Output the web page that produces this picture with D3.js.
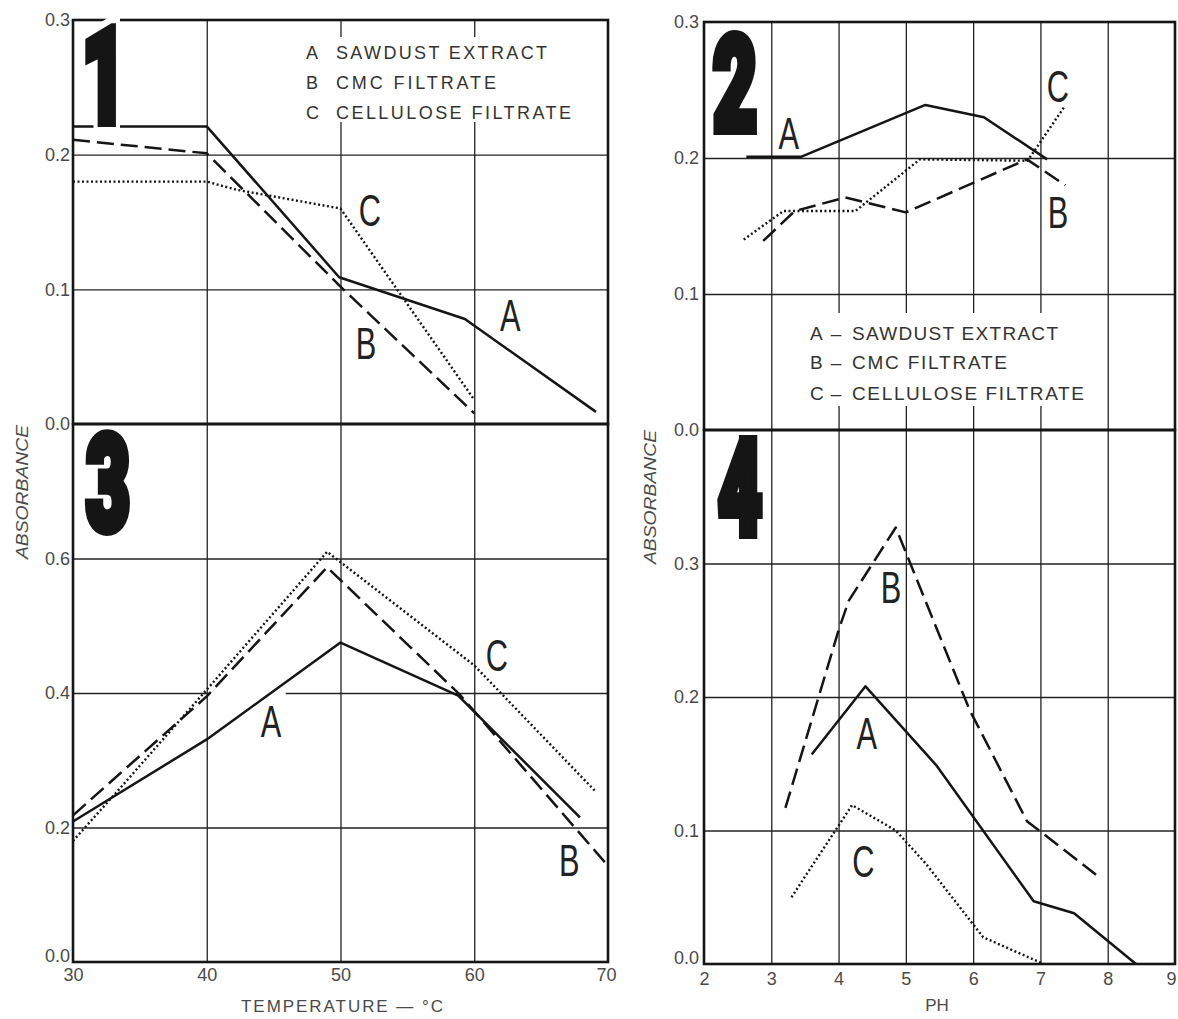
<!DOCTYPE html>
<html><head><meta charset="utf-8">
<script src="https://cdn.jsdelivr.net/npm/d3@7"></script>
<style>body{margin:0;background:#fff}</style>
</head><body><svg id="c" width="1178" height="1019"></svg>
<script>
// ---------- data ----------
const tempTicks = [30, 40, 50, 60, 70];
const phTicks = [2, 3, 4, 5, 6, 7, 8, 9];
const tempGrid = [40, 50, 60];
const phGrid = [3, 4, 5, 6, 7, 8];
const p1YTicks = [0, 0.1, 0.2, 0.3];
const p1YGrid = [0.1, 0.2];
const p3YTicks = [0, 0.2, 0.4, 0.6];
const p3YGrid = [0.2, 0.4, 0.6];
const p2YTicks = [0, 0.1, 0.2, 0.3];
const p2YGrid = [0.1, 0.2];
const p4YTicks = [0, 0.1, 0.2, 0.3];
const p4YGrid = [0.1, 0.2, 0.3];

// Panel 1: absorbance vs temperature (upper scale)
const p1A = [[30,0.221],[40,0.221],[49.9,0.109],[59.3,0.078],[69.1,0.009]];
const p1B = [[30,0.211],[40,0.201],[50,0.102],[60,0.008]];
const p1C = [[30,0.18],[40,0.18],[42.2,0.174],[50,0.16],[60,0.018]];
// Panel 2: absorbance vs pH (upper scale)
const p2A = [[2.63,0.201],[3.45,0.201],[5.29,0.239],[6.16,0.23],[7.1,0.199]];
const p2B = [[2.88,0.139],[3.35,0.161],[4.1,0.171],[5.0,0.16],[6.8,0.199],[7.37,0.18]];
const p2C = [[2.59,0.14],[3.18,0.161],[4.25,0.161],[5.21,0.199],[6.81,0.198],[7.36,0.238]];
// Panel 3: absorbance vs temperature (lower scale)
const p3A = [[30,0.209],[40,0.331],[50,0.475],[58.8,0.396],[67.9,0.215]];
const p3B = [[30,0.218],[40,0.395],[49,0.587],[58.9,0.398],[70,0.143]];
const p3C = [[30,0.18],[33.5,0.258],[40,0.405],[49,0.61],[60,0.441],[69,0.255]];
// Panel 4: absorbance vs pH (lower scale)
const p4A = [[3.6,0.157],[4.4,0.208],[5.45,0.149],[6.9,0.047],[7.5,0.038],[8.42,0.0]];
const p4B = [[3.21,0.117],[4.0,0.25],[4.15,0.272],[4.85,0.327],[5.95,0.19],[6.8,0.107],[7.85,0.066]];
const p4C = [[3.3,0.05],[4.2,0.119],[4.85,0.1],[5.3,0.075],[6.15,0.02],[7.05,0.0]];

// curve letters, anchored in data units
const p1Letters = [["A",62.7,0.081],["B",51.9,0.06],["C",52.2,0.159]];
const p2Letters = [["A",3.26,0.218],["B",7.26,0.16],["C",7.26,0.253]];
const p3Letters = [["A",44.8,0.358],["B",67.1,0.152],["C",61.7,0.456]];
const p4Letters = [["A",4.42,0.173],["B",4.78,0.282],["C",4.37,0.077]];

const legendKeys = ["A","B","C"];
const legendNames = ["SAWDUST  EXTRACT","CMC  FILTRATE","CELLULOSE  FILTRATE"];
const legendNames2 = ["SAWDUST EXTRACT","CMC FILTRATE","CELLULOSE FILTRATE"];

// ---------- drawing ----------
const svg = d3.select("#c");
svg.append("rect").attr("width",1178).attr("height",1019).attr("fill","#fff");

const xT = d3.scaleLinear().domain([30,70]).range([73,608]);
const xP = d3.scaleLinear().domain([2,9]).range([704,1175]);
const y1 = d3.scaleLinear().domain([0,0.3]).range([424,20]);
const y3 = d3.scaleLinear().domain([0,0.8]).range([962,424]);
const y2 = d3.scaleLinear().domain([0,0.3]).range([430,22]);
const y4 = d3.scaleLinear().domain([0,0.4]).range([964,430]);

const INK = "#151515";
const TXT = "#4a4a4a";
const style = {
  A: {dash: null, w: 2.5},
  B: {dash: "17,7", w: 2.5},
  C: {dash: "2,2.5", w: 2.4}
};

function drawPanel(o) {
  const g = svg.append("g");
  const [x0, x1] = o.x.range();
  const [yb, yt] = o.y.range();
  // grid
  g.append("g").attr("transform", `translate(0,${yb})`)
    .call(d3.axisBottom(o.x).tickValues(o.xGrid).tickSize(-(yb - yt)).tickFormat(""))
    .call(s => s.select(".domain").remove())
    .call(s => s.selectAll("line").attr("stroke", "#222").attr("stroke-width", 1.3));
  g.append("g").attr("transform", `translate(${x0},0)`)
    .call(d3.axisLeft(o.y).tickValues(o.yGrid).tickSize(-(x1 - x0)).tickFormat(""))
    .call(s => s.select(".domain").remove())
    .call(s => s.selectAll("line").attr("stroke", "#222").attr("stroke-width", 1.3));
  // white masks (legend backgrounds / gaps)
  (o.masks || []).forEach(m => {
    g.append("rect").attr("x", m[0]).attr("y", m[1]).attr("width", m[2]).attr("height", m[3]).attr("fill", "#fff");
  });
  // curves
  const line = d3.line().x(d => o.x(d[0])).y(d => o.y(d[1]));
  o.series.forEach(s => {
    const st = style[s.key];
    g.append("path").datum(s.data).attr("d", line)
      .attr("fill", "none").attr("stroke", INK)
      .attr("stroke-width", st.w)
      .attr("stroke-linejoin", "round")
      .attr("stroke-dasharray", st.dash);
  });
  // curve letters
  o.letters.forEach(l => {
    g.append("text")
      .attr("transform", `translate(${o.x(l[1])},${o.y(l[2])}) scale(0.7,1)`)
      .attr("text-anchor", "middle").attr("dy", "0.36em")
      .style("font-family", "'Liberation Sans', Arial, sans-serif")
      .style("font-size", "44px").attr("fill", "#222")
      .text(l[0]);
  });
  // border
  g.append("rect").attr("x", x0).attr("y", yt).attr("width", x1 - x0).attr("height", yb - yt)
    .attr("fill", "none").attr("stroke", INK).attr("stroke-width", 2.6);
  // y tick labels
  const ya = g.append("g").attr("transform", `translate(${x0},0)`)
    .call(d3.axisLeft(o.y).tickValues(o.yLabels).tickSize(0).tickPadding(o.yPad).tickFormat(d3.format(".1f")));
  ya.select(".domain").remove();
  ya.selectAll("text").style("font-family", "'Liberation Sans', Arial, sans-serif")
    .style("font-size", "18px").attr("fill", TXT);
  if (o.raiseZero) ya.selectAll(".tick").filter(d => d === 0).select("text").attr("dy", "-0.05em");
  // x tick labels
  if (o.xLabels) {
    const xa = g.append("g").attr("transform", `translate(0,${yb})`)
      .call(d3.axisBottom(o.x).tickValues(o.xLabels).tickSize(0).tickPadding(o.xPad).tickFormat(d3.format("d")));
    xa.select(".domain").remove();
    xa.selectAll("text").style("font-family", "'Liberation Sans', Arial, sans-serif")
      .style("font-size", "18px").attr("fill", TXT);
    const last = o.xLabels[o.xLabels.length - 1];
    xa.selectAll(".tick").filter(d => d === last).select("text").attr("dx", o.lastShift || 0);
  }
  return g;
}

drawPanel({x: xT, y: y1, xGrid: tempGrid, yGrid: p1YGrid, yLabels: p1YTicks, yPad: 3,
  masks: [[298, 37, 282, 85]],
  series: [{key:"A", data:p1A},{key:"B", data:p1B},{key:"C", data:p1C}], letters: p1Letters});
drawPanel({x: xT, y: y3, xGrid: tempGrid, yGrid: p3YGrid, yLabels: p3YTicks, yPad: 3, raiseZero: true,
  masks: [[xT(40.3), y3(0.4) - 2, xT(45.9) - xT(40.3), 4]],
  xLabels: tempTicks, xPad: 6, lastShift: -2,
  series: [{key:"A", data:p3A},{key:"B", data:p3B},{key:"C", data:p3C}], letters: p3Letters});
drawPanel({x: xP, y: y2, xGrid: phGrid, yGrid: p2YGrid, yLabels: p2YTicks, yPad: 5,
  masks: [[803, 313, 287, 93]],
  series: [{key:"A", data:p2A},{key:"B", data:p2B},{key:"C", data:p2C}], letters: p2Letters});
drawPanel({x: xP, y: y4, xGrid: phGrid, yGrid: p4YGrid, yLabels: p4YTicks, yPad: 5, raiseZero: true,
  xLabels: phTicks, xPad: 8, lastShift: -4,
  series: [{key:"A", data:p4A},{key:"B", data:p4B},{key:"C", data:p4C}], letters: p4Letters});

// legends
const lf = "'Liberation Sans', Arial, sans-serif";
const lg1 = svg.append("g");
[58.5, 88.5, 118.5].forEach((by, i) => {
  lg1.append("text").attr("x", 306).attr("y", by).style("font-family", lf).style("font-size", "18px")
    .attr("fill", "#333").text(legendKeys[i]);
  lg1.append("text").attr("x", 336).attr("y", by).style("font-family", lf).style("font-size", "18px")
    .attr("fill", "#333").attr("textLength", [211, 160, 235][i]).attr("lengthAdjust", "spacing")
    .text(legendNames[i]);
});
const lg2 = svg.append("g");
[340, 369, 400].forEach((by, i) => {
  lg2.append("text").attr("x", 810).attr("y", by).style("font-family", lf).style("font-size", "19px")
    .attr("fill", "#333").text(legendKeys[i]);
  lg2.append("text").attr("x", 836).attr("y", by).attr("text-anchor", "middle").style("font-family", lf).style("font-size", "19px")
    .attr("fill", "#333").text("–");
  lg2.append("text").attr("x", 852).attr("y", by).style("font-family", lf).style("font-size", "19px")
    .attr("fill", "#333").attr("textLength", [206, 155, 232][i]).attr("lengthAdjust", "spacing")
    .text(legendNames2[i]);
});

// panel numerals
function bigNum(t, cx, bottom, halo) {
  const f = "'Roboto', 'DejaVu Sans', sans-serif";
  if (halo) {
    svg.append("text").attr("transform", `translate(${cx},${bottom - 5}) scale(0.58,1)`)
      .attr("text-anchor", "middle").style("font-family", f).style("font-weight", 900).style("font-size", "131px")
      .attr("fill", "#fff").attr("stroke", "#fff").attr("stroke-width", 24).text(t);
  }
  svg.append("text").attr("transform", `translate(${cx},${bottom - 5}) scale(0.58,1)`)
    .attr("text-anchor", "middle").style("font-family", f).style("font-weight", 900).style("font-size", "131px")
    .attr("fill", "#151515").attr("stroke", "#151515").attr("stroke-width", 10).text(t);
}
bigNum("1", 104, 127, true);
bigNum("2", 735, 135, false);
bigNum("3", 108, 535, false);
bigNum("4", 740, 539, false);

// axis titles
svg.append("text").attr("transform", "translate(22,492) rotate(-90)").attr("text-anchor", "middle").attr("dy", "0.35em")
  .style("font-family", lf).style("font-style", "italic").style("font-size", "17px").attr("fill", TXT)
  .attr("textLength", 134).attr("lengthAdjust", "spacingAndGlyphs").text("ABSORBANCE");
svg.append("text").attr("transform", "translate(650,497) rotate(-90)").attr("text-anchor", "middle").attr("dy", "0.35em")
  .style("font-family", lf).style("font-style", "italic").style("font-size", "17px").attr("fill", TXT)
  .attr("textLength", 134).attr("lengthAdjust", "spacingAndGlyphs").text("ABSORBANCE");
svg.append("text").attr("x", 342).attr("y", 1012).attr("text-anchor", "middle")
  .style("font-family", lf).style("font-size", "17px").attr("fill", TXT)
  .attr("textLength", 202).attr("lengthAdjust", "spacing").text("TEMPERATURE  — °C");
svg.append("text").attr("x", 937).attr("y", 1011).attr("text-anchor", "middle")
  .style("font-family", lf).style("font-size", "17px").attr("fill", TXT).text("PH");
</script>
</body></html>
